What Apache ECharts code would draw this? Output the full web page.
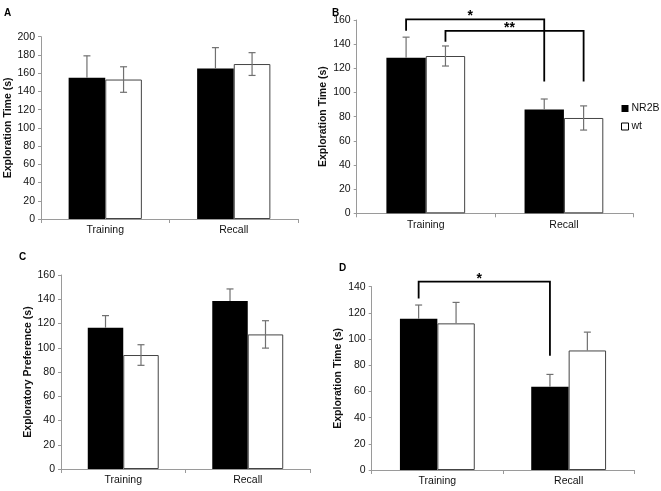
<!DOCTYPE html>
<html><head><meta charset="utf-8">
<script src="https://cdn.jsdelivr.net/npm/echarts@6/dist/echarts.min.js"></script>
<style>html,body{margin:0;padding:0;background:#fff}#c{width:661px;height:491px}</style>
</head><body><div id="c"></div>
<script>
// ---- data ----
const categories = ['Training', 'Recall'];
const seriesNames = ['NR2B', 'wt'];

const A_nr2b = [155, 165];   const A_nr2b_errUp = [24, 23];   const A_nr2b_errDown = [0, 0];
const A_wt   = [153, 170];   const A_wt_errUp   = [14, 12.5]; const A_wt_errDown   = [14, 12.5];

const B_nr2b = [128.8, 86];  const B_nr2b_errUp = [17, 8.6];  const B_nr2b_errDown = [0, 0];
const B_wt   = [130.2, 78.9];const B_wt_errUp   = [8.3, 10];  const B_wt_errDown   = [8.3, 10];

const C_nr2b = [116.5, 138.5]; const C_nr2b_errUp = [10, 10];  const C_nr2b_errDown = [0, 0];
const C_wt   = [94, 111];      const C_wt_errUp   = [8.5, 11.3]; const C_wt_errDown = [8.5, 11.3];

const D_nr2b = [115.5, 63.5]; const D_nr2b_errUp = [10.5, 9.5]; const D_nr2b_errDown = [0, 0];
const D_wt   = [112, 91.3];   const D_wt_errUp   = [16, 14];    const D_wt_errDown   = [0, 0];

// brackets: [fromCat, fromSeries, toCat, toSeries, topY, leftEndY, rightEndY, label]
const B_brackets = [[0, 0, 1, 0, 160.5, 151, 109, '*'], [0, 1, 1, 1, 151, 142, 109, '**']];
const D_brackets = [[0, 0, 1, 0, 143.8, 131, 87.3, '*']];

const yMax = [200, 160, 160, 140];
const yNames = ['Exploration Time (s)', 'Exploration Time (s)', 'Exploratory Preference (s)', 'Exploration Time (s)'];
const panelLetters = ['A', 'B', 'C', 'D'];

// ---- layout ----
const grids = [
  {left: 41, right: 363, top: 36.7, bottom: 272},
  {left: 356.7, right: 28, top: 20, bottom: 277.7},
  {left: 61, right: 351, top: 275, bottom: 22},
  {left: 371.7, right: 26.7, top: 286.7, bottom: 21}
];
const nameGaps = [25, 28, 26, 28];
const letterPos = [[4, 8], [332, 8], [19, 252], [339, 263]];
const BW = 0.285; // bar width fraction of band
const FONT = 'Liberation Sans, Arial, sans-serif';

const panels = [
  [A_nr2b, A_nr2b_errUp, A_nr2b_errDown, A_wt, A_wt_errUp, A_wt_errDown, []],
  [B_nr2b, B_nr2b_errUp, B_nr2b_errDown, B_wt, B_wt_errUp, B_wt_errDown, B_brackets],
  [C_nr2b, C_nr2b_errUp, C_nr2b_errDown, C_wt, C_wt_errUp, C_wt_errDown, []],
  [D_nr2b, D_nr2b_errUp, D_nr2b_errDown, D_wt, D_wt_errUp, D_wt_errDown, D_brackets]
];

const xAxis = [], yAxis = [], series = [];
panels.forEach((p, i) => {
  xAxis.push({
    type: 'category', gridIndex: i, data: categories,
    axisLine: {lineStyle: {color: '#9a9a9a', width: 1}},
    axisTick: {show: true, length: 4, lineStyle: {color: '#9a9a9a'}},
    axisLabel: {color: '#111', fontSize: 10.5, fontFamily: FONT, margin: 6}
  });
  yAxis.push({
    type: 'value', gridIndex: i, min: 0, max: yMax[i], interval: 20,
    name: yNames[i], nameLocation: 'middle', nameGap: nameGaps[i], nameRotate: 90,
    nameTextStyle: {fontWeight: 'bold', fontSize: 10.5, fontFamily: FONT, color: '#111'},
    axisLine: {show: true, lineStyle: {color: '#9a9a9a'}},
    axisTick: {show: true, length: 3, lineStyle: {color: '#9a9a9a'}},
    axisLabel: {color: '#111', fontSize: 10.5, fontFamily: FONT, margin: 6},
    splitLine: {show: false}
  });
  const styles = [
    {color: '#000', borderColor: '#000', borderWidth: 0},
    {color: '#fff', borderColor: '#444', borderWidth: 1}
  ];
  const vals = [p[0], p[3]], ups = [p[1], p[4]], downs = [p[2], p[5]];
  [0, 1].forEach(s => {
    series.push({
      type: 'bar', name: seriesNames[s], xAxisIndex: i, yAxisIndex: i,
      data: vals[s], barWidth: (BW * 100) + '%', barGap: '0%',
      itemStyle: styles[s], silent: true, animation: false
    });
  });
  [0, 1].forEach(s => {
    const d = vals[s].map((v, k) => [k, v, v + ups[s][k], v - downs[s][k]]);
    series.push({
      type: 'custom', xAxisIndex: i, yAxisIndex: i, data: d, z: 5, animation: false, silent: true,
      renderItem: (params, api) => {
        const band = api.size([1, 0])[0];
        const c = api.coord([api.value(0), api.value(1)]);
        const x = c[0] + (s === 0 ? -1 : 1) * band * BW / 2;
        const yHi = api.coord([api.value(0), api.value(2)])[1];
        const yLo = api.coord([api.value(0), api.value(3)])[1];
        const cap = 3.5;
        const st = {stroke: '#707070', lineWidth: 1.2};
        const ch = [
          {type: 'line', shape: {x1: x, y1: yHi, x2: x, y2: yLo}, style: st},
          {type: 'line', shape: {x1: x - cap, y1: yHi, x2: x + cap, y2: yHi}, style: st}
        ];
        if (api.value(3) < api.value(1)) ch.push({type: 'line', shape: {x1: x - cap, y1: yLo, x2: x + cap, y2: yLo}, style: st});
        return {type: 'group', children: ch};
      }
    });
  });
  if (p[6].length) {
    series.push({
      type: 'custom', xAxisIndex: i, yAxisIndex: i, data: p[6], z: 6, animation: false, silent: true, clip: false,
      renderItem: (params, api) => {
        const band = api.size([1, 0])[0];
        const b = p[6][params.dataIndex];
        const x1 = api.coord([b[0], 0])[0] + (b[1] === 0 ? -1 : 1) * band * BW / 2;
        const x2 = api.coord([b[2], 0])[0] + (b[3] === 0 ? -1 : 1) * band * BW / 2;
        const yt = api.coord([0, b[4]])[1];
        const yl = api.coord([0, b[5]])[1];
        const yr = api.coord([0, b[6]])[1];
        return {type: 'group', children: [
          {type: 'polyline', shape: {points: [[x1, yl], [x1, yt], [x2, yt], [x2, yr]]}, style: {stroke: '#000', lineWidth: 1.8, fill: null}},
          {type: 'text', style: {text: b[7], x: (x1 + x2) / 2 - 5, y: yt + 4, fill: '#000', font: 'bold 14px ' + FONT, align: 'center', verticalAlign: 'bottom'}}
        ]};
      }
    });
  }
});

const chart = echarts.init(document.getElementById('c'), null, {renderer: 'canvas'});
chart.setOption({
  backgroundColor: '#fff',
  animation: false,
  grid: grids,
  xAxis, yAxis, series,
  legend: {
    data: [
      {name: 'NR2B', itemStyle: {color: '#000', borderWidth: 0}},
      {name: 'wt', itemStyle: {color: '#fff', borderColor: '#000', borderWidth: 1}}
    ],
    orient: 'vertical', left: 621, top: 103, itemWidth: 7, itemHeight: 7, itemGap: 7, padding: 0,
    icon: 'rect', textStyle: {fontSize: 10.5, fontFamily: FONT, color: '#111', padding: [0, 0, 0, -2]},
    selectedMode: false
  },
  graphic: panelLetters.map((t, i) => ({
    type: 'text', left: letterPos[i][0], top: letterPos[i][1],
    style: {text: t, font: 'bold 10px ' + FONT, fill: '#000'}
  }))
});
</script>
</body></html>
